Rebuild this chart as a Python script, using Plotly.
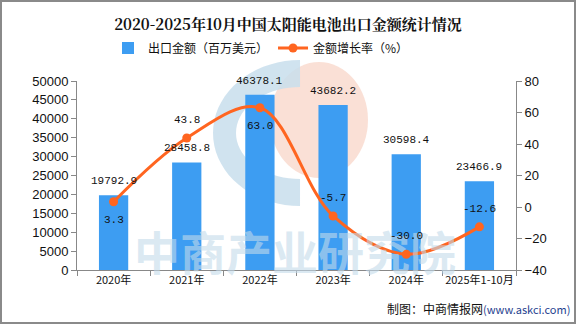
import math
import plotly.graph_objects as go

categories = ["2020年", "2021年", "2022年", "2023年", "2024年", "2025年1-10月"]
export_value = [19792.9, 28458.8, 46378.1, 43682.2, 30598.4, 23466.9]
growth_rate = [3.3, 43.8, 63.0, -5.7, -30.0, -12.6]
growth_label_side = [-1, 1, -1, 1, 1, 1]  # -1 below the point, 1 above

W, H = 576, 324
L, R, T, B = 77, 516, 81, 270


def px(x):
    return (x - L) / (R - L)


def py(y):
    return (B - y) / (B - T)


fig = go.Figure()
fig.add_trace(go.Bar(
    x=categories, y=export_value, name="出口金额（百万美元）",
    marker=dict(color="#3D9DF2", line=dict(width=0)), width=0.4,
))
fig.add_trace(go.Scatter(
    x=categories, y=growth_rate, name="金额增长率（%）", yaxis="y2",
    mode="lines+markers",
    line=dict(color="#FF6520", width=3, shape="spline", smoothing=1.0),
    marker=dict(color="#FF6520", size=9),
    cliponaxis=False,
))

label_font = dict(family="Liberation Mono", size=11, color="#111")
annotations = []
for c, v in zip(categories, export_value):
    annotations.append(dict(x=c, y=v, xref="x", yref="y", text=f"{v:.1f}", showarrow=False,
                            yshift=14, xanchor="center", yanchor="middle", font=label_font))
for c, v, s in zip(categories, growth_rate, growth_label_side):
    annotations.append(dict(x=c, y=v, xref="x", yref="y2", text=f"{v:.1f}", showarrow=False,
                            yshift=18 * s, xanchor="center", yanchor="middle", font=label_font))

# watermark decoration
shapes = []
shapes.append(dict(type="circle", xref="paper", yref="paper", layer="below",
                   x0=px(270), x1=px(368), y0=py(178), y1=py(62),
                   fillcolor="rgba(248,214,200,0.75)", line=dict(width=0)))
cx, cy = 300, 133
pts = []
for i in range(0, 37):
    a = math.radians(90 + 180 * i / 36)
    pts.append((cx + 87 * math.cos(a), cy - 73 * math.sin(a)))
for i in range(36, -1, -1):
    a = math.radians(90 + 180 * i / 36)
    pts.append((cx + 64 * math.cos(a), cy - 46 * math.sin(a)))
path = "M " + " L ".join(f"{px(x):.4f},{py(y):.4f}" for x, y in pts) + " Z"
shapes.append(dict(type="path", xref="paper", yref="paper", layer="below", path=path,
                   fillcolor="rgba(200,222,236,0.85)", line=dict(width=0)))
# outer border
shapes.append(dict(type="rect", xref="paper", yref="paper", layer="above",
                   x0=px(1), x1=px(575), y0=py(323), y1=py(1),
                   line=dict(color="#8a8a8a", width=2), fillcolor="rgba(0,0,0,0)"))

annotations = [
    dict(text="<b>中商产业研究院</b>", xref="paper", yref="paper", x=px(295), y=py(250),
         showarrow=False, font=dict(family="Noto Sans CJK SC", size=46, color="rgba(195,218,234,0.6)"),
         xanchor="center", yanchor="middle"),
] + annotations + [
    dict(text="制图：中商情报网<span style='color:#1f3f8f;font-size:11px'>(www.askci.com)</span>",
         xref="paper", yref="paper", x=px(572), y=py(308), showarrow=False,
         font=dict(family="Noto Sans CJK SC", size=12, color="#111"),
         xanchor="right", yanchor="middle"),
]

fig.update_layout(
    width=W, height=H,
    margin=dict(l=L, r=W - R, t=T, b=H - B),
    paper_bgcolor="white", plot_bgcolor="rgba(0,0,0,0)",
    title=dict(text="<b>2020-2025年10月中国太阳能电池出口金额统计情况</b>",
               x=0.5, xref="container", xanchor="center",
               y=1 - 25 / H, yref="container", yanchor="middle",
               font=dict(family="Noto Serif CJK SC, Noto Sans CJK SC", size=15, color="#111")),
    legend=dict(orientation="h", x=108 / W, xref="container", xanchor="left",
                y=1 - 48 / H, yref="container", yanchor="middle",
                font=dict(family="Noto Sans CJK SC", size=12, color="#111"),
                itemwidth=30, bgcolor="rgba(0,0,0,0)"),
    bargap=0.6,
    xaxis=dict(type="category", showline=True, linecolor="#888", linewidth=1,
               ticks="outside", tickson="boundaries", ticklen=5, tickcolor="#888",
               tickangle=0,
               tickfont=dict(family="Noto Sans CJK SC", size=11, color="#111"),
               showgrid=False, zeroline=False),
    yaxis=dict(range=[0, 50000], dtick=5000, tickformat="d", showline=True, linecolor="#888", linewidth=1,
               ticks="outside", ticklen=5, tickcolor="#888", showgrid=False, zeroline=False,
               tickfont=dict(family="Liberation Sans", size=13, color="#111")),
    yaxis2=dict(range=[-40, 80], dtick=20, overlaying="y", side="right",
                showline=True, linecolor="#888", linewidth=1,
                ticks="outside", ticklen=5, tickcolor="#888", showgrid=False, zeroline=False,
                tickfont=dict(family="Liberation Sans", size=13, color="#111")),
    shapes=shapes, annotations=annotations,
)

fig.write_html("out.html")
